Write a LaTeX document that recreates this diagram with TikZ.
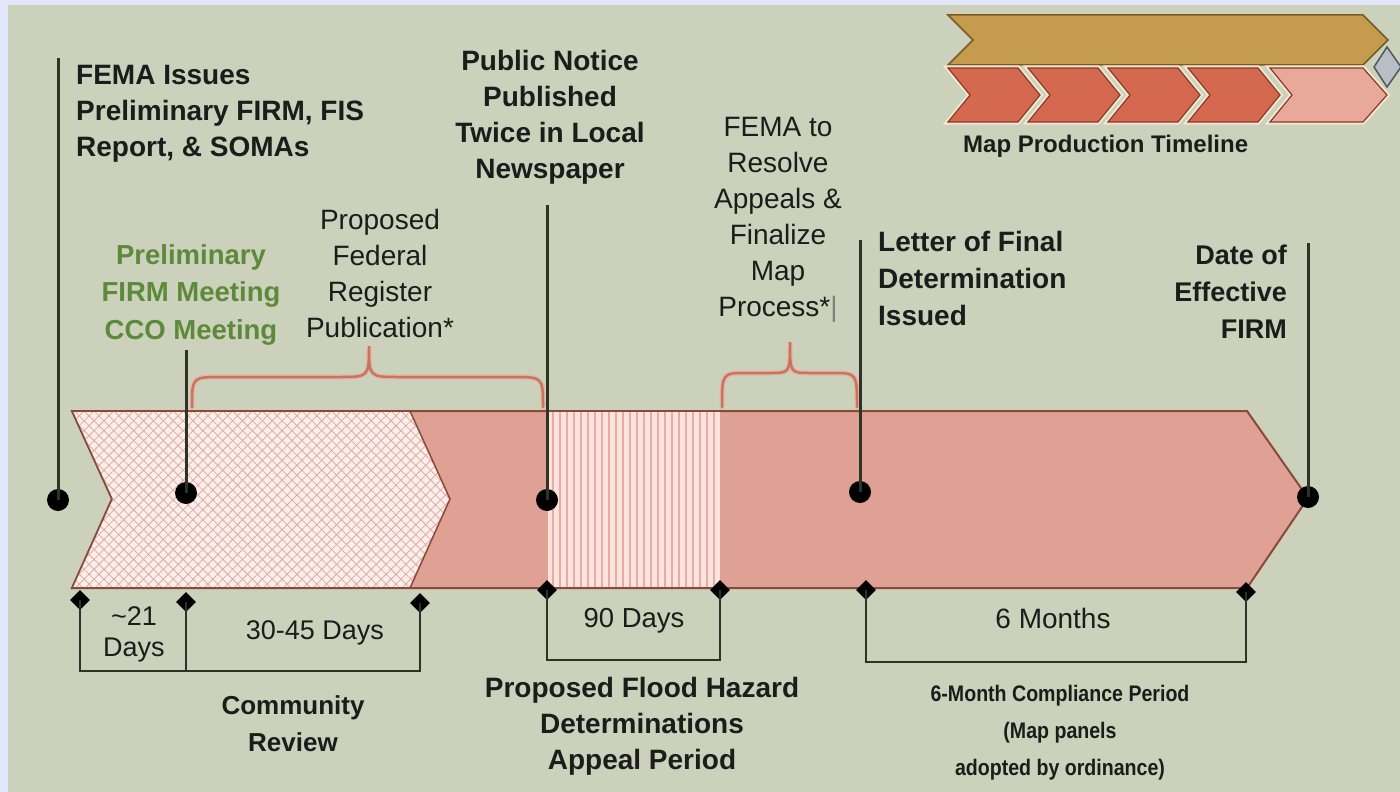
\documentclass[tikz,border=0pt]{standalone}
\usepackage{fontspec}
\setmainfont{Liberation Sans}
\newfontfamily\condensedsans[FakeStretch=0.87]{Liberation Sans}
\usetikzlibrary{patterns.meta,shapes.geometric}
\definecolor{bluebg}{HTML}{E2E7FB}
\definecolor{greenbg}{HTML}{CCD1BB}
\definecolor{salmon}{HTML}{DEA193}
\definecolor{bandborder}{HTML}{8A4A3A}
\definecolor{hatchbg}{HTML}{FBEFEB}
\definecolor{hatchline}{HTML}{E2A9A0}
\definecolor{stripebg}{HTML}{FCE3DD}
\definecolor{stripeline}{HTML}{E8ACA2}
\definecolor{bracecol}{HTML}{C8745E}
\definecolor{bracehalo}{HTML}{E3B6A6}
\definecolor{markcol}{HTML}{2E3328}
\definecolor{txt}{HTML}{1C1C1C}
\definecolor{greentxt}{HTML}{5C8A3A}
\definecolor{gold}{HTML}{C59B4D}
\definecolor{goldborder}{HTML}{7A5A2A}
\definecolor{chevred}{HTML}{D4694F}
\definecolor{chevlight}{HTML}{E8A89A}
\definecolor{chevborder}{HTML}{8A3A28}
\definecolor{cream}{HTML}{F3E8D2}
\definecolor{graydia}{HTML}{B8BEC6}
\definecolor{graydiaborder}{HTML}{4A5A5A}
\begin{document}
\begin{tikzpicture}[x=1pt,y=-1pt,
  bandstyle/.style={fill=salmon,draw=bandborder,line width=2pt,line join=miter},
  hatchborder/.style={draw=bandborder,line width=1.5pt},
  mline/.style={draw=markcol,line width=3pt},
  dotnode/.style={circle,fill=black,minimum size=22pt,inner sep=0pt},
  dmdnode/.style={diamond,fill=black,minimum size=20pt,inner sep=0pt},
  bracket/.style={draw=markcol,line width=2.5pt,line join=miter},
  bracehalostyle/.style={draw=bracehalo,line width=5pt,line cap=round},
  bracestyle/.style={draw=bracecol,line width=2.5pt,line cap=round},
  head/.style={font=\bfseries\fontsize{28}{36}\selectfont,text=txt,inner sep=0pt,align=center},
  reg/.style={font=\fontsize{28}{36}\selectfont,text=txt,inner sep=0pt,align=center},
  chev/.style={fill=chevred,draw=chevborder,line width=1.2pt},
  chevhalo/.style={draw=cream,line width=5pt}
]
\useasboundingbox (0,0) rectangle (1400,792);
\fill[bluebg] (0,0) rectangle (1400,792);
\fill[greenbg] (8,5) rectangle (1400,792);

% ---------- top-right legend graphic ----------
\draw[fill=gold,draw=goldborder,line width=1.5pt] (948,15) -- (1363,15) -- (1388,40) -- (1363,65) -- (948,65) -- (973,40) -- cycle;
\foreach \L in {948,1028,1108,1188}{
  \draw[chevhalo] (\L,68) -- (\L+70,68) -- (\L+92,95) -- (\L+70,122) -- (\L,122) -- (\L+22,95) -- cycle;
  \draw[chev] (\L,68) -- (\L+70,68) -- (\L+92,95) -- (\L+70,122) -- (\L,122) -- (\L+22,95) -- cycle;
}
\draw[chevhalo] (1270,68) -- (1363,68) -- (1387,95) -- (1363,122) -- (1270,122) -- (1292,95) -- cycle;
\draw[chev,fill=chevlight] (1270,68) -- (1363,68) -- (1387,95) -- (1363,122) -- (1270,122) -- (1292,95) -- cycle;
\draw[fill=graydia,draw=graydiaborder,line width=1.5pt] (1387,47) -- (1401,67) -- (1387,87) -- (1374,67) -- cycle;
\node[font=\bfseries\fontsize{24}{28}\selectfont,text=txt,inner sep=0pt,anchor=north west] (legend) at (963,135) {Map Production Timeline};

% ---------- main band ----------
\draw[bandstyle] (72,411) -- (1247,411) -- (1308,498) -- (1247,588) -- (72,588) -- (112,499) -- cycle;
% cross-hatched chevron
\fill[hatchbg] (72,411) -- (410,411) -- (450,499) -- (410,588) -- (72,588) -- (112,499) -- cycle;
\fill[pattern={Lines[angle=45,distance=7pt,line width=0.8pt]},pattern color=hatchline] (72,411) -- (410,411) -- (450,499) -- (410,588) -- (72,588) -- (112,499) -- cycle;
\fill[pattern={Lines[angle=-45,distance=7pt,line width=0.8pt]},pattern color=hatchline] (72,411) -- (410,411) -- (450,499) -- (410,588) -- (72,588) -- (112,499) -- cycle;
\draw[hatchborder] (410,411) -- (450,499) -- (410,588);
\draw[hatchborder] (72,411) -- (112,499) -- (72,588);
% striped section
\fill[stripebg] (548,412) rectangle (720,587);
\fill[pattern={Lines[angle=90,distance=7pt,line width=1.6pt]},pattern color=stripeline] (548,412) rectangle (720,587);
\draw[bandborder,line width=2pt] (72,411) -- (1247,411);
\draw[bandborder,line width=2pt] (72,588) -- (1247,588);

% ---------- braces ----------
\path[bracehalostyle] (192,407) .. controls (192,377) .. (222,377) -- (339,377) .. controls (369,377) .. (369,346) .. controls (369,377) .. (399,377) -- (513,377) .. controls (543,377) .. (543,407);
\path[bracestyle] (192,407) .. controls (192,377) .. (222,377) -- (339,377) .. controls (369,377) .. (369,346) .. controls (369,377) .. (399,377) -- (513,377) .. controls (543,377) .. (543,407);
\path[bracehalostyle] (722,407) .. controls (722,373) .. (747,373) -- (770,373) .. controls (790,373) .. (790,342) .. controls (790,373) .. (810,373) -- (832,373) .. controls (857,373) .. (857,407);
\path[bracestyle] (722,407) .. controls (722,373) .. (747,373) -- (770,373) .. controls (790,373) .. (790,342) .. controls (790,373) .. (810,373) -- (832,373) .. controls (857,373) .. (857,407);

% ---------- milestone markers ----------
\coordinate (t1) at (58,58);
\coordinate (t2) at (186,350);
\coordinate (t3) at (547,205);
\coordinate (t4) at (860,240);
\coordinate (t5) at (1308,243);
\node[dotnode] (m1) at (58,500) {};
\node[dotnode] (m2) at (186,493) {};
\node[dotnode] (m3) at (547,500) {};
\node[dotnode] (m4) at (860,492) {};
\node[dotnode] (m5) at (1308,497) {};
\draw[mline] (t1) -- (m1.center);
\draw[mline] (t2) -- (m2.center);
\draw[mline] (t3) -- (m3.center);
\draw[mline] (t4) -- (m4.center);
\draw[mline] (t5) -- (m5.center);

% ---------- duration brackets ----------
\coordinate (b1) at (80,671);
\coordinate (b2) at (186,671);
\coordinate (b3) at (420,671);
\coordinate (b4) at (547,660);
\coordinate (b5) at (720,660);
\coordinate (b6) at (866,662);
\coordinate (b7) at (1246,662);
\node[dmdnode] (d1) at (80,600) {};
\node[dmdnode] (d2) at (186,602) {};
\node[dmdnode] (d3) at (420,603) {};
\node[dmdnode] (d4) at (547,590) {};
\node[dmdnode] (d5) at (720,590) {};
\node[dmdnode] (d6) at (866,590) {};
\node[dmdnode] (d7) at (1246,592) {};
\draw[bracket] (d1.center) -- (b1) -- (b3) -- (d3.center);
\draw[bracket] (d2.center) -- (b2);
\draw[bracket] (d4.center) -- (b4) -- (b5) -- (d5.center);
\draw[bracket] (d6.center) -- (b6) -- (b7) -- (d7.center);

% ---------- texts ----------
\node[head,align=left,anchor=north west] (fema) at (76,65) {FEMA Issues\\Preliminary FIRM, FIS\\Report, \& SOMAs};
\node[head,anchor=north] (notice) at (550,50) {Public Notice\\Published\\Twice in Local\\Newspaper};
\node[reg,anchor=north] (resolve) at (778,117) {FEMA to\\Resolve\\Appeals \&\\Finalize\\Map\\Process*{\color{gray}\textbar}};
\node[reg,anchor=north] (federal) at (380,209) {Proposed\\Federal\\Register\\Publication*};
\node[head,text=greentxt,anchor=north,font=\bfseries\fontsize{27.5}{37.5}\selectfont] (prelim) at (191,244) {Preliminary\\FIRM Meeting\\CCO Meeting};
\node[head,align=left,anchor=north west,font=\bfseries\fontsize{28}{37}\selectfont] (letter) at (878,231) {Letter of Final\\Determination\\Issued};
\node[head,align=right,anchor=north east,font=\bfseries\fontsize{27}{37}\selectfont] (date) at (1287,245) {Date of\\Effective\\FIRM};
\node[reg,anchor=north,font=\fontsize{27}{31}\selectfont] (days21) at (134,606) {\textasciitilde21\\Days};
\node[reg,anchor=north,font=\fontsize{27}{31}\selectfont] (days3045) at (315,620) {30-45 Days};
\node[reg,anchor=north,font=\fontsize{27.5}{31}\selectfont] (days90) at (634,608) {90 Days};
\node[reg,anchor=north,font=\fontsize{28}{31}\selectfont] (months6) at (1053,608) {6 Months};
\node[head,anchor=north,font=\bfseries\fontsize{26}{37}\selectfont] (community) at (293,695) {Community\\Review};
\node[head,anchor=north] (flood) at (642,677) {Proposed Flood Hazard\\Determinations\\Appeal Period};
\node[head,anchor=north,font=\condensedsans\bfseries\fontsize{22.5}{37}\selectfont] (compliance) at (1060,685) {6-Month Compliance Period\\(Map panels\\adopted by ordinance)};
\end{tikzpicture}
\end{document}
